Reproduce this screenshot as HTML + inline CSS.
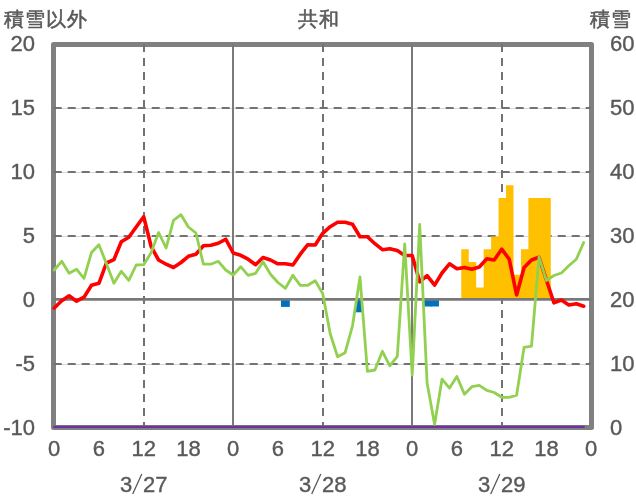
<!DOCTYPE html>
<html><head><meta charset="utf-8"><style>
html,body{margin:0;padding:0;background:#fff;}
body{width:636px;height:501px;position:relative;overflow:hidden;will-change:transform;font-family:"Liberation Sans",sans-serif;color:#595959;}
svg{position:absolute;left:0;top:0;}
.yl{position:absolute;left:0;width:35px;text-align:right;font-size:22px;line-height:26px;-webkit-text-stroke:0.4px #595959;}
.yr{position:absolute;left:610px;width:30px;text-align:left;font-size:22px;line-height:26px;-webkit-text-stroke:0.4px #595959;}
.xl{position:absolute;top:436px;width:60px;text-align:center;font-size:22px;line-height:26px;-webkit-text-stroke:0.4px #595959;}
.dl{position:absolute;top:472px;font-size:22px;line-height:26px;-webkit-text-stroke:0.4px #595959;}
.sl{display:inline-block;margin:0 1.5px;transform:scale(1.15,1.2);}
.t{position:absolute;font-size:19.5px;line-height:24px;white-space:nowrap;letter-spacing:1px;-webkit-text-stroke:0.55px #595959;}
</style></head><body>
<svg width="636" height="501" viewBox="0 0 636 501">
<rect x="53.5" y="44.5" width="538" height="383" fill="none" stroke="#808080" stroke-width="5" stroke-linejoin="round"/>
<line x1="54.2" y1="108.5" x2="591.2" y2="108.5" stroke="#d6d6d6" stroke-width="1"/>
<line x1="53.7" y1="108.0" x2="591.2" y2="108.0" stroke="#727272" stroke-width="2" stroke-dasharray="8 6"/>
<line x1="54.2" y1="172.5" x2="591.2" y2="172.5" stroke="#d6d6d6" stroke-width="1"/>
<line x1="53.7" y1="172.0" x2="591.2" y2="172.0" stroke="#727272" stroke-width="2" stroke-dasharray="8 6"/>
<line x1="54.2" y1="236.5" x2="591.2" y2="236.5" stroke="#d6d6d6" stroke-width="1"/>
<line x1="53.7" y1="236.0" x2="591.2" y2="236.0" stroke="#727272" stroke-width="2" stroke-dasharray="8 6"/>
<line x1="54.2" y1="364.5" x2="591.2" y2="364.5" stroke="#d6d6d6" stroke-width="1"/>
<line x1="53.7" y1="364.0" x2="591.2" y2="364.0" stroke="#727272" stroke-width="2" stroke-dasharray="8 6"/>
<line x1="144.0" y1="44" x2="144.0" y2="427" stroke="#727272" stroke-width="2" stroke-dasharray="8 6"/>
<line x1="323.0" y1="44" x2="323.0" y2="427" stroke="#727272" stroke-width="2" stroke-dasharray="8 6"/>
<line x1="502.0" y1="44" x2="502.0" y2="427" stroke="#727272" stroke-width="2" stroke-dasharray="8 6"/>
<line x1="233.0" y1="44" x2="233.0" y2="427" stroke="#7a7a7a" stroke-width="2"/>
<line x1="412.0" y1="44" x2="412.0" y2="427" stroke="#7a7a7a" stroke-width="2"/>
<path d="M461.28,299.60 L461.28,249.18 L468.74,249.18 L468.74,261.96 L476.19,261.96 L476.19,287.52 L483.65,287.52 L483.65,249.18 L491.11,249.18 L491.11,236.40 L498.57,236.40 L498.57,198.06 L506.03,198.06 L506.03,185.28 L513.49,185.28 L513.49,274.74 L520.94,274.74 L520.94,249.18 L528.40,249.18 L528.40,198.06 L535.86,198.06 L535.86,198.06 L543.32,198.06 L543.32,198.06 L550.78,198.06 L550.78,299.60 Z" fill="#FFC000"/>
<rect x="281.01" y="299.60" width="8.8" height="7.30" fill="#0070C0"/>
<rect x="355.59" y="299.60" width="7.2" height="12.70" fill="#0070C0"/>
<rect x="422.72" y="299.60" width="8.8" height="6.90" fill="#0070C0"/>
<rect x="430.17" y="299.60" width="8.8" height="6.90" fill="#0070C0"/>
<line x1="53.5" y1="299.45" x2="591.5" y2="299.45" stroke="#787878" stroke-width="2.8"/>
<line x1="54.2" y1="426.9" x2="583.7" y2="426.9" stroke="#7030A0" stroke-width="2.3" stroke-linecap="round"/>
<polyline points="54.2,308.0 61.7,300.8 69.1,295.8 76.6,301.2 84.0,297.2 91.5,285.3 98.9,283.3 106.4,263.0 113.9,259.7 121.3,241.7 128.8,237.2 136.2,227.0 143.7,216.7 151.2,246.7 158.6,260.0 166.1,264.2 173.5,267.5 181.0,262.5 188.4,256.3 195.9,254.2 203.4,245.8 210.8,245.3 218.3,243.3 225.7,239.2 233.2,253.0 240.7,255.3 248.1,259.2 255.6,264.7 263.0,257.5 270.5,260.0 277.9,263.8 285.4,263.8 292.9,265.0 300.3,254.2 307.8,244.7 315.2,245.0 322.7,233.3 330.2,226.7 337.6,222.2 345.1,222.2 352.5,224.2 360.0,236.7 367.4,236.7 374.9,243.7 382.4,249.7 389.8,248.7 397.3,250.5 404.7,255.5 412.2,255.5 419.7,281.8 427.1,275.7 434.6,285.1 442.0,273.0 449.5,263.8 456.9,268.7 464.4,267.5 471.9,269.2 479.3,267.0 486.8,258.7 494.2,260.0 501.7,249.2 509.2,259.2 516.6,295.0 524.1,267.5 531.5,260.0 539.0,257.3 546.4,280.0 553.9,302.8 561.4,300.0 568.8,305.0 576.3,303.7 583.7,306.2" fill="none" stroke="#FF0000" stroke-width="3.6" stroke-linejoin="round" stroke-linecap="round"/>
<polyline points="54.2,270.0 61.7,261.3 69.1,273.3 76.6,269.3 84.0,278.3 91.5,252.5 98.9,244.7 106.4,263.5 113.9,283.3 121.3,271.3 128.8,280.3 136.2,265.0 143.7,264.7 151.2,252.5 158.6,232.5 166.1,248.0 173.5,220.3 181.0,214.7 188.4,227.0 195.9,233.0 203.4,264.2 210.8,264.2 218.3,261.3 225.7,270.0 233.2,275.0 240.7,266.7 248.1,275.3 255.6,273.3 263.0,261.7 270.5,274.2 277.9,282.5 285.4,288.3 292.9,275.3 300.3,285.3 307.8,285.3 315.2,280.8 322.7,293.5 330.2,333.8 337.6,356.7 345.1,352.7 352.5,325.8 360.0,277.0 367.4,371.3 374.9,370.0 382.4,351.3 389.8,365.8 397.3,356.3 404.7,244.0 412.2,375.0 419.7,224.5 427.1,383.1 434.6,424.4 442.0,379.2 449.5,388.1 456.9,376.5 464.4,394.3 471.9,386.7 479.3,385.3 486.8,390.3 494.2,392.5 501.7,397.3 509.2,397.3 516.6,395.2 524.1,347.3 531.5,346.2 539.0,256.9 546.4,280.5 553.9,275.5 561.4,273.0 568.8,265.8 576.3,259.2 583.7,242.5" fill="none" stroke="#92D050" stroke-width="2.8" stroke-linejoin="round" stroke-linecap="round"/>
<line x1="141.8" y1="474" x2="132.7" y2="494" stroke="#595959" stroke-width="1.3"/>
<line x1="320.8" y1="474" x2="311.7" y2="494" stroke="#595959" stroke-width="1.3"/>
<line x1="499.8" y1="474" x2="490.7" y2="494" stroke="#595959" stroke-width="1.3"/>
</svg>
<div class="t" style="left:4px;top:7px">積雪以外</div>
<div class="t" style="left:297.5px;top:7px">共和</div>
<div class="t" style="left:589.5px;top:6.5px">積雪</div>
<div class="yl" style="top:30.5px">20</div>
<div class="yl" style="top:94.5px">15</div>
<div class="yl" style="top:158.5px">10</div>
<div class="yl" style="top:222.5px">5</div>
<div class="yl" style="top:286.5px">0</div>
<div class="yl" style="top:350.5px">-5</div>
<div class="yl" style="top:414.5px">-10</div>
<div class="yr" style="top:30.5px">60</div>
<div class="yr" style="top:94.5px">50</div>
<div class="yr" style="top:158.5px">40</div>
<div class="yr" style="top:222.5px">30</div>
<div class="yr" style="top:286.5px">20</div>
<div class="yr" style="top:350.5px">10</div>
<div class="yr" style="top:414.5px">0</div>
<div class="xl" style="left:24.2px">0</div>
<div class="xl" style="left:68.9px">6</div>
<div class="xl" style="left:113.7px">12</div>
<div class="xl" style="left:158.4px">18</div>
<div class="xl" style="left:203.2px">0</div>
<div class="xl" style="left:247.9px">6</div>
<div class="xl" style="left:292.7px">12</div>
<div class="xl" style="left:337.4px">18</div>
<div class="xl" style="left:382.2px">0</div>
<div class="xl" style="left:426.9px">6</div>
<div class="xl" style="left:471.7px">12</div>
<div class="xl" style="left:516.4px">18</div>
<div class="xl" style="left:561.2px">0</div>
<div class="dl" style="left:120.0px">3</div>
<div class="dl" style="left:143.0px">27</div>
<div class="dl" style="left:299.0px">3</div>
<div class="dl" style="left:322.0px">28</div>
<div class="dl" style="left:478.0px">3</div>
<div class="dl" style="left:501.0px">29</div>
</body></html>
